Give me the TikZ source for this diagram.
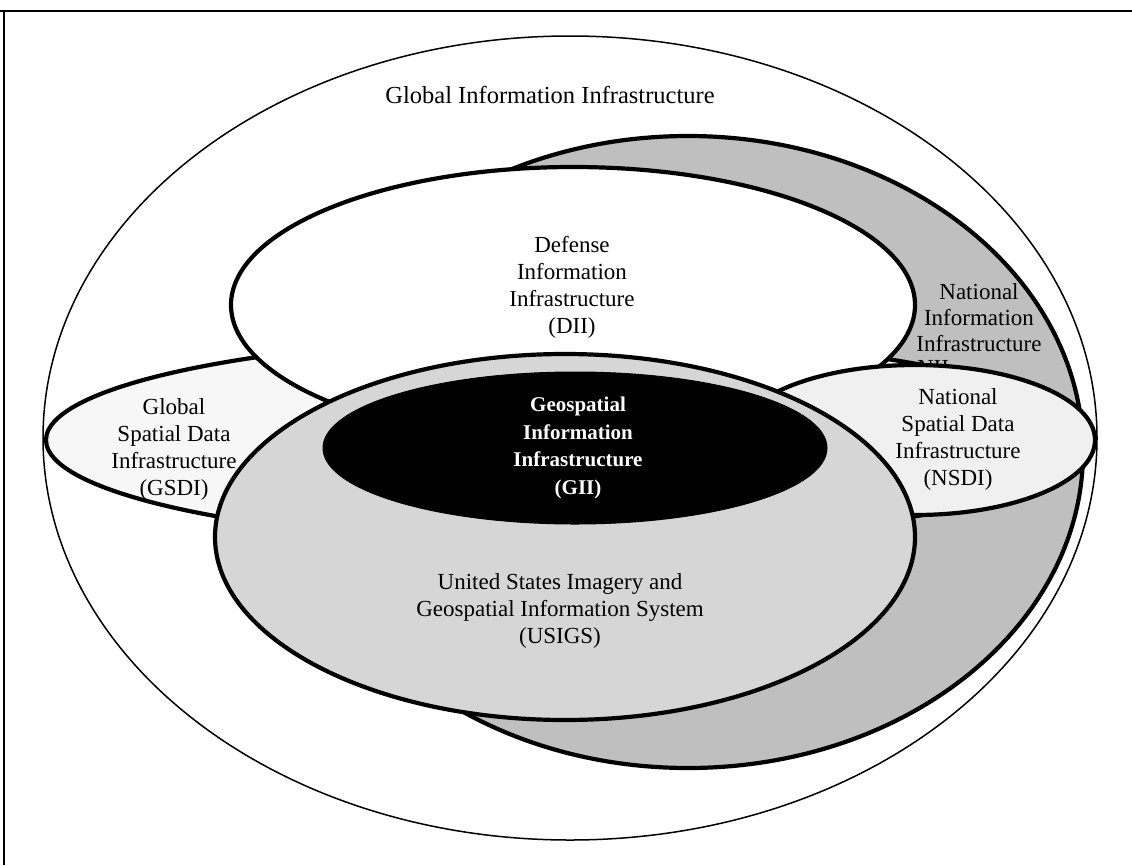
\documentclass[tikz,border=0pt]{standalone}
\usepackage{fontspec}
\setmainfont{Liberation Serif}
\usetikzlibrary{shapes.geometric}
\begin{document}
\begin{tikzpicture}[x=1pt,y=-1pt,
  ell/.style={ellipse, draw=black, line width=4.2pt, inner sep=0pt},
  lbl/.style={align=center, font=\fontsize{23}{27}\selectfont, inner sep=0pt},
]
\useasboundingbox (0,0) rectangle (1132,865);
\fill[white] (0,0) rectangle (1132,865);
% frame (scan edge)
\coordinate (ftl) at (0,11);
\coordinate (ftr) at (1132,11);
\coordinate (fc) at (4,11);
\coordinate (fbl) at (4,865);
\draw[line width=2.5pt] (ftl) -- (ftr);
\draw[line width=1.5pt] (fc) -- (fbl);
% outer ellipse
\node[ellipse, draw=black, line width=1.5pt, minimum width=1054pt, minimum height=804pt, inner sep=0pt] (outer) at (570,438) {};
\node[lbl, font=\fontsize{24.5}{28}\selectfont] (title) at (550,95) {Global Information Infrastructure};
% NII
\node[ell, fill=black!25, minimum width=790pt, minimum height=632pt] (nii) at (688,452) {};
\node[lbl, font=\fontsize{23}{26}\selectfont] (niitext) at (979,318) {National\\Information\\Infrastructure};
% GSDI
\node[ell, fill=black!3, minimum width=1040pt, minimum height=206pt] (gsdi) at (566,440) {};
\node[lbl] (gsditext) at (174,449) {Global\\Spatial Data\\Infrastructure\\(GSDI)};
% DII
\node[ell, fill=white, minimum width=684pt, minimum height=276pt] (dii) at (573,305) {};
\node[lbl] (diitext) at (572,287) {Defense\\Information\\Infrastructure\\(DII)};
\node[lbl] (niiabbr) at (933,368) {NII};
% NSDI
\node[ell, fill=black!6, minimum width=360pt, minimum height=150pt] (nsdi) at (915,440) {};
\node[lbl] (nsditext) at (958,439) {National\\Spatial Data\\Infrastructure\\(NSDI)};
% USIGS
\node[ell, fill=black!16, minimum width=700pt, minimum height=366pt] (usigs) at (565,537) {};
\node[lbl] (usigstext) at (560,611) {United States Imagery and\\Geospatial Information System\\(USIGS)};
% GII
\node[ellipse, fill=black, draw=black, line width=1pt, minimum width=504pt, minimum height=152pt, inner sep=0pt] (gii) at (575,448) {};
\node[lbl, text=white, font=\bfseries\fontsize{21}{27.5}\selectfont] (giitext) at (578,448) {Geospatial\\Information\\Infrastructure\\(GII)};
\end{tikzpicture}
\end{document}
